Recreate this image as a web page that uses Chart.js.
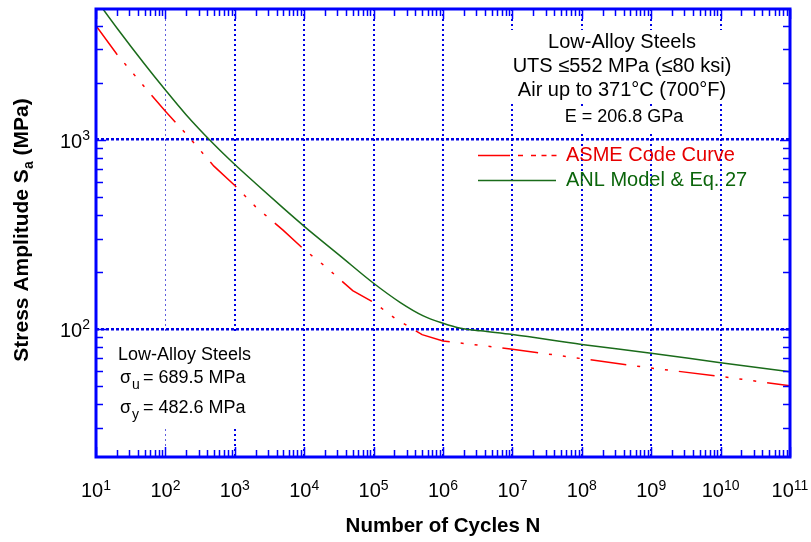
<!DOCTYPE html>
<html>
<head>
<meta charset="utf-8">
<script src="https://cdn.jsdelivr.net/npm/chart.js@4.4.1/dist/chart.umd.min.js"></script>
<style>
  html, body { margin: 0; padding: 0; background: #fff; }
  #wrap { width: 811px; height: 542px; }
</style>
</head>
<body>
<div id="wrap"><canvas id="chart" width="811" height="542"></canvas></div>
<script>
// ASME code curve (carbon & low-alloy steels, UTS <= 552 MPa), MPa
const asmeCycles = [10, 20, 50, 100, 200, 500, 1e3, 2e3, 5e3, 1e4, 2e4, 5e4, 1e5, 2e5, 5e5, 1e6, 1e7, 1e8, 1e9, 1e10, 1e11];
const asmeStress = [3999, 2827, 1896, 1413, 1069, 724, 572, 441, 331, 262, 214, 159, 138, 114, 93.1, 86.2, 78, 69.5, 62, 56, 50];

// ANL model & Eq. 27, MPa
const anlCycles = [10, 20, 50, 100, 200, 500, 1e3, 2e3, 5e3, 1e4, 3.3e4, 1e5, 2.4e5, 5.2e5, 1e6, 1.8e6, 3.5e6, 1e7, 1e8, 1e9, 1e10, 1e11];
const anlStress = [5500, 3890, 2510, 1828, 1349, 944, 738, 586, 434, 348, 243, 174, 138, 117, 107, 100.7, 97.5, 93.2, 82.6, 74.3, 66.1, 59.2];

// axes
const xDecades = [1, 2, 3, 4, 5, 6, 7, 8, 9, 10, 11];
const yDecades = [2, 3];
const xRange = [10, 1e11];
const yRange = [21, 4900];

// texts
const seriesLabels = ['ASME Code Curve', 'ANL Model & Eq. 27'];
const infoLines = ['Low-Alloy Steels', 'UTS \u2264552 MPa (\u226480 ksi)', 'Air up to 371\u00B0C (700\u00B0F)'];
const modulusLine = 'E = 206.8 GPa';
const propTitle = 'Low-Alloy Steels';
const propLines = [['u', '= 689.5 MPa'], ['y', '= 482.6 MPa']];

const FONT = '"Liberation Sans", Arial, sans-serif';
const BLUE = '#0000ff';
const RED = '#ff0000';
const GREEN = '#1a6b1a';

const ctx = document.getElementById('chart').getContext('2d');

function pow10Label(c, x, y, exp, align) {
    c.font = `20px ${FONT}`;
    const wb = c.measureText('10').width;
    c.font = `14px ${FONT}`;
    const we = c.measureText(String(exp)).width;
    const total = wb + we;
    const x0 = align === 'center' ? x - total / 2 : x - total;
    c.textAlign = 'left';
    c.textBaseline = 'alphabetic';
    c.font = `20px ${FONT}`;
    c.fillText('10', x0, y);
    c.font = `14px ${FONT}`;
    c.fillText(String(exp), x0 + wb, y - 7.5);
}

const framePlugin = {
    id: 'frame',
    beforeDatasetsDraw(chart) {
        // white boxes behind the annotations (hide grid lines)
        const c = chart.ctx;
        c.save();
        c.fillStyle = '#fff';
        c.fillRect(505, 30, 235, 74);
        c.fillRect(560, 108, 130, 23);
        c.fillRect(112, 334, 143, 93);
        c.restore();
    },
    afterDatasetsDraw(chart) {
        const c = chart.ctx;
        const a = chart.chartArea;
        const xs = chart.scales.x, ys = chart.scales.y;
        c.save();

        // minor + major ticks, inside on all four sides
        c.strokeStyle = BLUE;
        c.lineWidth = 1.5;
        c.beginPath();
        for (let e = 0; e <= 11; e++) {
            for (let k = 1; k <= 9; k++) {
                const v = k * Math.pow(10, e);
                if (v >= xRange[0] && v <= xRange[1]) {
                    const px = Math.round(xs.getPixelForValue(v)) + 0.5;
                    const len = k === 1 ? 10 : 7;
                    c.moveTo(px, a.bottom); c.lineTo(px, a.bottom - len);
                    c.moveTo(px, a.top); c.lineTo(px, a.top + len);
                }
                if (v >= yRange[0] && v <= yRange[1]) {
                    const py = Math.round(ys.getPixelForValue(v)) + 0.5;
                    const len = k === 1 ? 10 : 7;
                    c.moveTo(a.left, py); c.lineTo(a.left + len, py);
                    c.moveTo(a.right, py); c.lineTo(a.right - len, py);
                }
            }
        }
        c.stroke();

        // frame
        c.lineWidth = 3;
        c.strokeRect(a.left, a.top, a.right - a.left, a.bottom - a.top);

        // tick labels
        c.fillStyle = '#000';
        xDecades.forEach(e => pow10Label(c, xs.getPixelForValue(Math.pow(10, e)), a.bottom + 40, e, 'center'));
        yDecades.forEach(e => pow10Label(c, a.left - 6, ys.getPixelForValue(Math.pow(10, e)) + 8, e, 'right'));

        // x title
        c.font = `bold 20.5px ${FONT}`;
        c.textAlign = 'center';
        c.fillText('Number of Cycles N', (a.left + a.right) / 2, 532);

        // y title with subscript
        c.save();
        c.translate(28, 230);
        c.rotate(-Math.PI / 2);
        const big = `bold 21px ${FONT}`, small = `bold 14px ${FONT}`;
        const parts = [['Stress Amplitude S', big, 0], ['a', small, 5], [' (MPa)', big, 0]];
        let w = 0;
        parts.forEach(p => { c.font = p[1]; w += c.measureText(p[0]).width; });
        let tx = -w / 2;
        c.textAlign = 'left';
        parts.forEach(p => { c.font = p[1]; c.fillText(p[0], tx, p[2]); tx += c.measureText(p[0]).width; });
        c.restore();

        // info block, top right
        c.font = `20px ${FONT}`;
        c.textAlign = 'center';
        infoLines.forEach((t, i) => c.fillText(t, 622, 48 + i * 24));
        c.font = `18px ${FONT}`;
        c.fillText(modulusLine, 624, 122);

        // legend
        c.lineWidth = 1.5;
        c.strokeStyle = RED;
        c.beginPath();
        c.moveTo(478, 155.5); c.lineTo(510, 155.5);
        [518, 531, 541.5, 551.5].forEach(x0 => { c.moveTo(x0, 155.5); c.lineTo(x0 + 5, 155.5); });
        c.stroke();
        c.strokeStyle = GREEN;
        c.beginPath();
        c.moveTo(478, 180.5); c.lineTo(556, 180.5);
        c.stroke();
        c.font = `20px ${FONT}`;
        c.textAlign = 'left';
        c.fillStyle = '#e60000';
        c.fillText(seriesLabels[0], 566, 161);
        c.fillStyle = '#0b650b';
        c.fillText(seriesLabels[1], 566, 186);

        // material properties, bottom left
        c.fillStyle = '#000';
        c.font = `18px ${FONT}`;
        c.fillText(propTitle, 118, 360);
        propLines.forEach((p, i) => {
            const by = 383 + i * 30;
            c.font = `18px ${FONT}`;
            c.fillText('\u03C3', 120, by);
            c.font = `14px ${FONT}`;
            c.fillText(p[0], 132, by + 6);
            c.font = `18px ${FONT}`;
            c.fillText(p[1], 143, by);
        });

        c.restore();
    }
};

new Chart(ctx, {
    type: 'line',
    data: {
        datasets: [{
            label: seriesLabels[0],
            data: asmeCycles.map((n, i) => ({ x: n, y: asmeStress[i] })),
            borderColor: RED,
            borderWidth: 1.5,
            borderDash: [36, 11, 3, 11, 3, 11, 3, 11],
            pointRadius: 0,
            tension: 0,
        }, {
            label: seriesLabels[1],
            data: anlCycles.map((n, i) => ({ x: n, y: anlStress[i] })),
            borderColor: GREEN,
            borderWidth: 1.5,
            pointRadius: 0,
            cubicInterpolationMode: 'monotone',
        }],
    },
    options: {
        responsive: false,
        animation: false,
        events: [],
        layout: { padding: { left: 96, right: 21, top: 9, bottom: 85 } },
        plugins: { legend: { display: false }, tooltip: { enabled: false } },
        scales: {
            x: {
                type: 'logarithmic',
                min: xRange[0],
                max: xRange[1],
                afterBuildTicks: (s) => { s.ticks = xDecades.map(e => ({ value: Math.pow(10, e) })); },
                ticks: { display: false },
                border: { display: false, dash: [2, 3] },
                grid: {
                    drawTicks: false,
                    color: (c) => c.tick && c.tick.value === 100 ? 'rgba(40,40,210,0.75)' : '#0000e6',
                    lineWidth: (c) => c.tick && c.tick.value === 100 ? 1 : 2,
                },
            },
            y: {
                type: 'logarithmic',
                min: yRange[0],
                max: yRange[1],
                afterBuildTicks: (s) => { s.ticks = yDecades.map(e => ({ value: Math.pow(10, e) })); },
                ticks: { display: false },
                border: { display: false, dash: [3, 2] },
                grid: { drawTicks: false, color: '#0000e6', lineWidth: 2.5 },
            },
        },
    },
    plugins: [framePlugin],
});
</script>
</body>
</html>
